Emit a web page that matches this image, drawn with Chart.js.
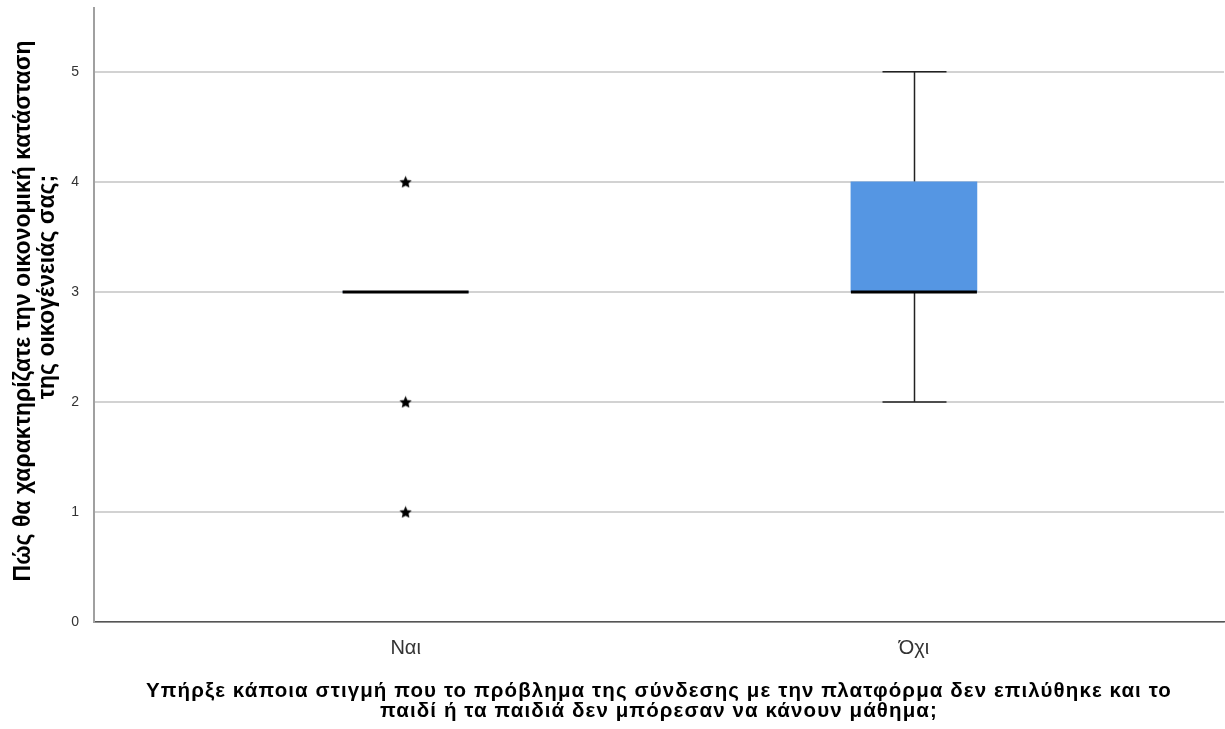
<!DOCTYPE html>
<html lang="el">
<head>
<meta charset="utf-8">
<title>Οικονομική κατάσταση οικογένειας</title>
<script src="https://cdn.jsdelivr.net/npm/chart.js@4.4.1/dist/chart.umd.min.js"></script>
<style>
  html, body { margin: 0; padding: 0; background: #ffffff; }
  #wrap { width: 1225px; height: 729px; position: relative; }
</style>
</head>
<body>
<div id="wrap"><canvas id="chart" width="1225" height="729"></canvas></div>
<script>
// Box-plot summary per group (values on a 1–5 scale)
const categories   = ['Ναι', 'Όχι'];
const whiskerLow   = [3, 2];
const quartile1    = [3, 3];
const medians      = [3, 3];
const quartile3    = [3, 4];
const whiskerHigh  = [3, 5];
const extremes     = [[4, 2, 1], []];   // points drawn as stars
const yTicks       = [0, 1, 2, 3, 4, 5];

const yTitle = ['Πώς θα χαρακτηρίζατε την οικονομική κατάσταση', 'της οικογένειάς σας;'];
const xTitle = ['Υπήρξε κάποια στιγμή που το πρόβλημα της σύνδεσης με την πλατφόρμα δεν επιλύθηκε και το',
                'παιδί ή τα παιδιά δεν μπόρεσαν να κάνουν μάθημα;'];

const FONT = "'Liberation Sans', Arial, sans-serif";
const BOX_W = 126;
const CAP_W = 64;

// Small filled five-point star used as the marker for extreme values
function makeStar(size) {
  const c = document.createElement('canvas');
  c.width = size; c.height = size;
  const g = c.getContext('2d');
  const cx = size / 2, cy = size / 2 + 0.6, R = size / 2, r = R * 0.47;
  g.beginPath();
  for (let i = 0; i < 10; i++) {
    const rad = i % 2 === 0 ? R : r;
    const a = -Math.PI / 2 + i * Math.PI / 5;
    const px = cx + rad * Math.cos(a), py = cy + rad * Math.sin(a);
    i === 0 ? g.moveTo(px, py) : g.lineTo(px, py);
  }
  g.closePath();
  g.fillStyle = '#000';
  g.fill();
  return c;
}
const star = makeStar(13);

const boxData = categories.map((c, i) => ({ x: i + 1, y: [quartile1[i], quartile3[i]] }));
const extremeData = [];
extremes.forEach((vals, i) => vals.forEach(v => extremeData.push({ x: i + 1, y: v })));

// Whiskers (under the boxes), medians and star markers (over the boxes)
const boxParts = {
  id: 'boxParts',
  beforeDatasetsDraw(chart) {
    const { ctx, scales: { x, y } } = chart;
    ctx.save();
    ctx.strokeStyle = '#222';
    ctx.lineWidth = 1.5;
    categories.forEach((c, i) => {
      const cx = Math.round(x.getPixelForValue(i + 1)) + 0.5;
      const segs = [[quartile3[i], whiskerHigh[i]], [quartile1[i], whiskerLow[i]]];
      segs.forEach(([from, to]) => {
        if (from === to) return;
        const y0 = y.getPixelForValue(from), y1 = y.getPixelForValue(to);
        ctx.beginPath();
        ctx.moveTo(cx, y0); ctx.lineTo(cx, y1);
        ctx.moveTo(cx - CAP_W / 2, y1); ctx.lineTo(cx + CAP_W / 2, y1);
        ctx.stroke();
      });
    });
    ctx.restore();
  },
  afterDatasetsDraw(chart) {
    const { ctx, scales: { x, y } } = chart;
    ctx.save();
    ctx.strokeStyle = '#000';
    ctx.lineWidth = 3;
    categories.forEach((c, i) => {
      const cx = x.getPixelForValue(i + 1);
      const my = y.getPixelForValue(medians[i]);
      ctx.beginPath();
      ctx.moveTo(cx - BOX_W / 2, my); ctx.lineTo(cx + BOX_W / 2, my);
      ctx.stroke();
    });
    const meta = chart.getDatasetMeta(1);
    meta.data.forEach(pt => ctx.drawImage(star, pt.x - star.width / 2, pt.y - star.height / 2));
    ctx.restore();
  }
};

// Axis titles: the vertical one is rotated, the horizontal one is letter-spaced
const axisTitles = {
  id: 'axisTitles',
  afterDraw(chart) {
    const { ctx, chartArea } = chart;
    const midY = (chartArea.top + chartArea.bottom) / 2;
    const midX = (chartArea.left + chartArea.right) / 2;
    ctx.save();
    ctx.fillStyle = '#000';
    ctx.textAlign = 'center';
    ctx.textBaseline = 'middle';

    // vertical title, read bottom to top
    ctx.font = `bold 23px ${FONT}`;
    const yLineX = [24, 48];
    const yShift = [4, 28];
    yTitle.forEach((line, i) => {
      ctx.save();
      ctx.translate(yLineX[i], midY);
      ctx.rotate(-Math.PI / 2);
      ctx.fillText(line, yShift[i], 0);
      ctx.restore();
    });

    // horizontal title under the categories
    ctx.font = `bold 20.5px ${FONT}`;
    if ('letterSpacing' in ctx) ctx.letterSpacing = '1.1px';
    const xLineY = [691, 711];
    xTitle.forEach((line, i) => ctx.fillText(line, midX, xLineY[i]));
    ctx.restore();
  }
};

function noEdgePadding(scale) {
  scale.paddingTop = 0; scale.paddingBottom = 0;
  scale.paddingLeft = 0; scale.paddingRight = 0;
}

new Chart(document.getElementById('chart'), {
  type: 'bar',
  data: {
    datasets: [
      {
        data: boxData,
        backgroundColor: '#5596e3',
        borderWidth: 0,
        barThickness: BOX_W,
        order: 2
      },
      {
        type: 'scatter',
        data: extremeData,
        pointRadius: 0,
        pointHoverRadius: 0,
        showLine: false,
        order: 1
      }
    ]
  },
  options: {
    responsive: false,
    animation: false,
    events: [],
    layout: { padding: { top: 8, right: 1, left: 0, bottom: 0 } },
    plugins: { legend: { display: false }, tooltip: { enabled: false } },
    scales: {
      x: {
        type: 'linear',
        offset: false,
        min: 0.387,
        max: 2.61,
        afterBuildTicks(scale) { scale.ticks = categories.map((c, i) => ({ value: i + 1 })); },
        afterFit(scale) { scale.height = 107; noEdgePadding(scale); },
        grid: { display: false, drawTicks: false, offset: false },
        border: { display: true, color: '#555', width: 1.5 },
        ticks: {
          autoSkip: false,
          maxRotation: 0,
          padding: 14,
          color: '#333',
          font: { family: FONT, size: 20 },
          callback: v => categories[v - 1] ?? ''
        }
      },
      y: {
        type: 'linear',
        min: 0,
        max: 5.58,
        afterBuildTicks(scale) { scale.ticks = yTicks.map(v => ({ value: v })); },
        afterFit(scale) { scale.width = 94; noEdgePadding(scale); },
        grid: { color: '#d2d2d2', lineWidth: 2, drawTicks: false },
        border: { display: true, color: '#a0a0a0', width: 2 },
        ticks: {
          padding: 15,
          color: '#333',
          font: { family: FONT, size: 14 }
        }
      }
    }
  },
  plugins: [boxParts, axisTitles]
});
</script>
</body>
</html>
